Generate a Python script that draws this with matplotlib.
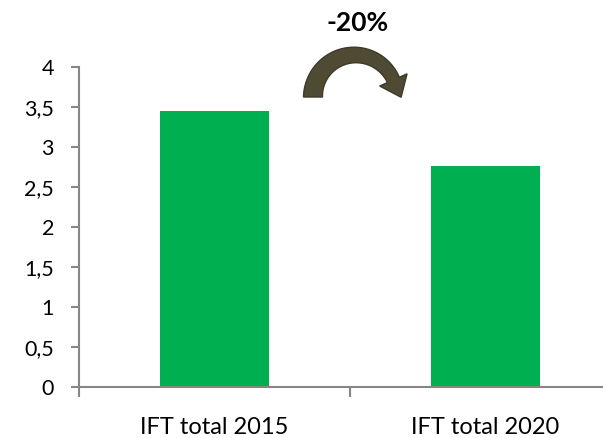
import numpy as np
import matplotlib
matplotlib.use("Agg")
import matplotlib.pyplot as plt
from matplotlib.patches import Polygon
from matplotlib.transforms import Affine2D
from matplotlib.ticker import FuncFormatter, FixedLocator

categories = ["IFT total 2015", "IFT total 2020"]
values = [3.45, 2.76]
yticks = [0, 0.5, 1, 1.5, 2, 2.5, 3, 3.5, 4]
change_label = "-20%"

W, H = 603, 439
plt.rcParams['font.family'] = ['Lato', 'DejaVu Sans']
fig = plt.figure(figsize=(W / 100, H / 100), dpi=100)
ax = fig.add_axes([79 / W, (H - 387.5) / H, 542 / W, 320 / H])

x = np.arange(len(categories))
ax.bar(x, values, width=0.4, color="#00B050", zorder=2)
ax.set_xlim(-0.5, 1.5)
ax.set_ylim(0, 4)

gray = "#868686"
for s in ["top", "right"]:
    ax.spines[s].set_visible(False)
for s in ["left", "bottom"]:
    ax.spines[s].set_color(gray)
    ax.spines[s].set_linewidth(1.5)

ax.set_yticks(yticks)
ax.yaxis.set_major_formatter(FuncFormatter(lambda v, p: ("%g" % v).replace(".", ",")))
ax.tick_params(axis="y", length=6, width=1.5, color=gray, labelsize=15.5, pad=12, labelcolor="black")
ax.set_xticks(x)
ax.set_xticklabels(categories)
ax.tick_params(axis="x", which="major", length=0, labelsize=17, pad=21.5, labelcolor="black")
ax.xaxis.set_minor_locator(FixedLocator([-0.5, 0.5, 1.5]))
ax.tick_params(axis="x", which="minor", length=7, width=1.5, color=gray)

# curved arrow (pixel coordinates, top-left origin)
cx, cy, r = 355.0, 98.0, 42.0
th = np.linspace(np.pi, np.deg2rad(24), 60)
w = np.linspace(19, 13, th.size)
outer = np.c_[cx + (r + w / 2) * np.cos(th), cy - (r + w / 2) * np.sin(th)]
inner = np.c_[cx + (r - w / 2) * np.cos(th), cy - (r - w / 2) * np.sin(th)]
te = th[-1]
ex, ey = cx + r * np.cos(te), cy - r * np.sin(te)
radial = np.array([np.cos(te), -np.sin(te)])
tang = np.array([np.sin(te), np.cos(te)])
hw, hl = 15, 19
b1 = np.array([ex, ey]) + radial * hw
b2 = np.array([ex, ey]) - radial * hw
tip = np.array([ex, ey]) + tang * hl
pts = np.vstack([outer, b1, tip, b2, inner[::-1]])
to_disp = Affine2D().scale(1, -1).translate(0, H)
arrow = Polygon(pts, closed=True, facecolor="#4F4A33", edgecolor="#3E3A28",
                linewidth=1, transform=to_disp)
fig.add_artist(arrow)

fig.text(358 / W, 1 - 23 / H, change_label, ha="center", va="center",
         fontsize=19, fontweight="bold")

fig.savefig("out.png", dpi=100)
